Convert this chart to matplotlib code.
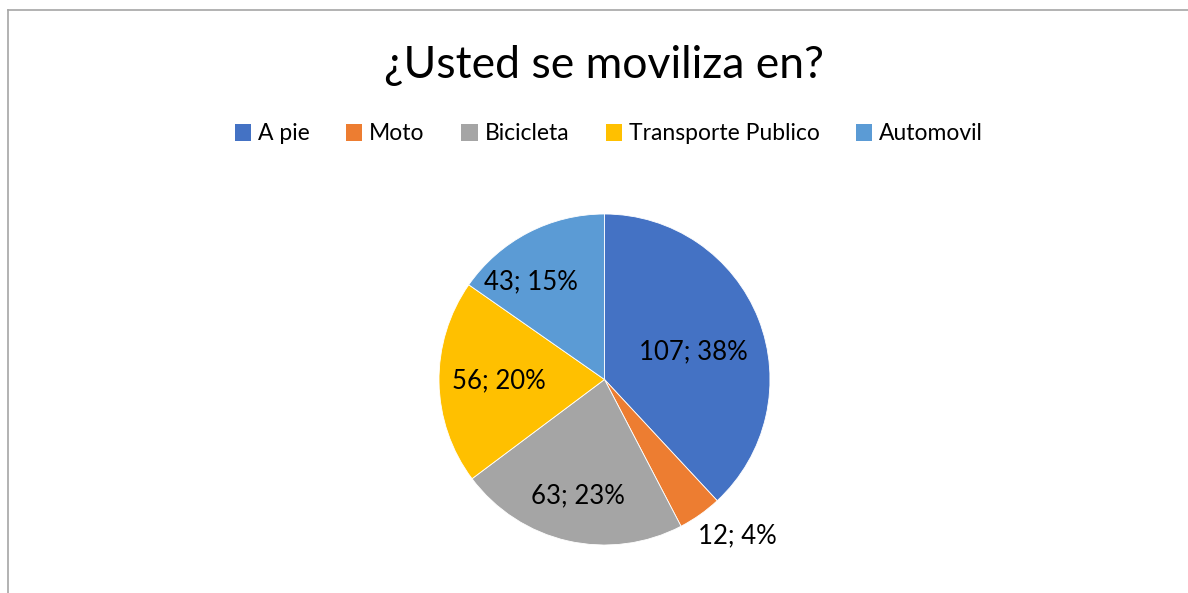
import matplotlib
matplotlib.use('Agg')
import matplotlib.pyplot as plt
from matplotlib.patches import Patch
from matplotlib.lines import Line2D
import numpy as np

plt.rcParams['font.family'] = ['Lato', 'DejaVu Sans']

categories = ['A pie', 'Moto', 'Bicicleta', 'Transporte Publico', 'Automovil']
counts = [107, 12, 63, 56, 43]
percents = ['38%', '4%', '23%', '20%', '15%']
colors = ['#4472C4', '#ED7D31', '#A5A5A5', '#FFC000', '#5B9BD5']
# label placement (radius fraction, angle nudge in degrees)
label_dist = [0.56, 1.24, 0.72, 0.64, 0.74]
label_nudge = [-4, 5, 0, 0, 9.5]

W, H = 1188, 593
fig = plt.figure(figsize=(W / 100, H / 100), dpi=100)

# pie box in pixels: x 439..770, y 214..545 (from top)
ax = fig.add_axes([439 / W, (H - 545) / H, 331 / W, 331 / H])
wedges, _ = ax.pie(counts, colors=colors, startangle=90, counterclock=False,
                   wedgeprops=dict(edgecolor='white', linewidth=0.6))
ax.set_xlim(-1, 1)
ax.set_ylim(-1, 1)

for w, c, p, d, n in zip(wedges, counts, percents, label_dist, label_nudge):
    ang = np.deg2rad((w.theta1 + w.theta2) / 2 + n)
    ax.text(d * np.cos(ang), d * np.sin(ang), f"{c}; {p}",
            ha='center', va='center', fontsize=18.5, color='#000000')

fig.text(604 / W, 1 - 66 / H, '¿Usted se moviliza en?', ha='center', va='center',
         fontsize=32, color='#000000')

handles = [Patch(facecolor=c, edgecolor='none') for c in colors]
lgd = fig.legend(handles, categories, ncol=5, loc='center',
                 bbox_to_anchor=(609 / W, 1 - 134 / H), frameon=False,
                 fontsize=16.5, handlelength=0.7, handleheight=0.7,
                 handletextpad=0.3, columnspacing=1.6)

# chart frame (cropped at right and bottom)
fig.add_artist(Line2D([8 / W, 8 / W], [0, 1 - 10 / H], color='#a6a6a6', lw=1.2))
fig.add_artist(Line2D([8 / W, 1], [1 - 10 / H, 1 - 10 / H], color='#a6a6a6', lw=1.2))

fig.savefig('out.png', dpi=100)
